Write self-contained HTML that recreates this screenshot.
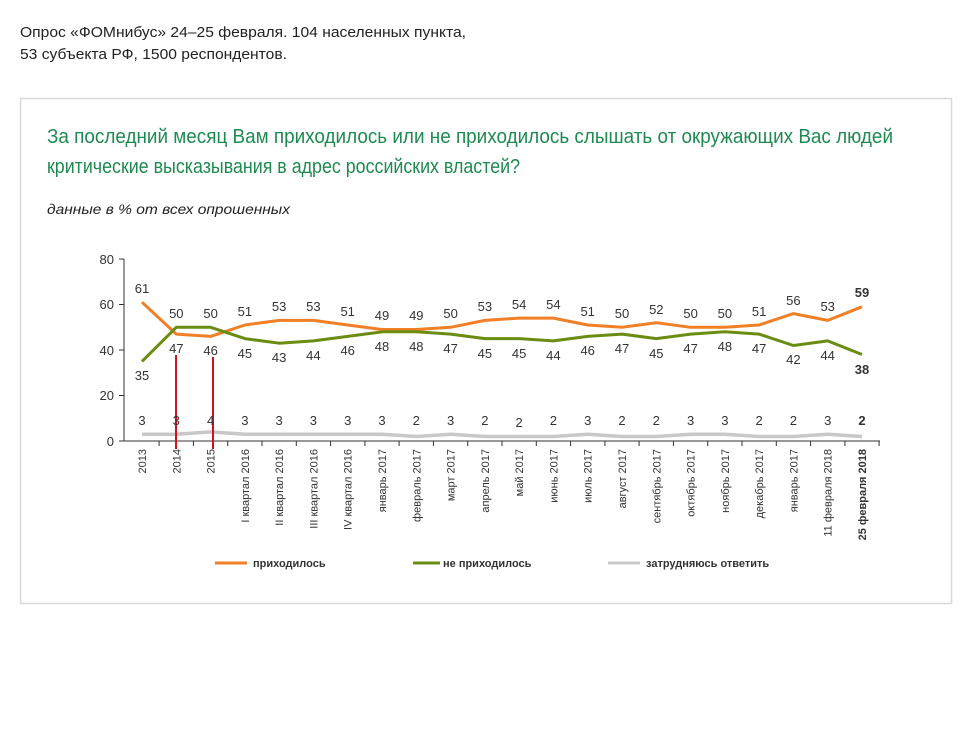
<!DOCTYPE html>
<html><head><meta charset="utf-8"><style>
html,body{margin:0;padding:0;background:#fff;}
svg{display:block;}
text{font-family:"Liberation Sans Narrow","Liberation Sans","DejaVu Sans Condensed",sans-serif;}
</style></head><body>
<svg width="960" height="748" viewBox="0 0 960 748" xmlns="http://www.w3.org/2000/svg">
<text x="20" y="37" font-size="15" fill="#222" textLength="446" lengthAdjust="spacingAndGlyphs">Опрос «ФОМнибус» 24–25 февраля. 104 населенных пункта,</text>
<text x="20" y="59" font-size="15" fill="#222" textLength="267" lengthAdjust="spacingAndGlyphs">53 субъекта РФ, 1500 респондентов.</text>
<rect x="20.5" y="98.5" width="931" height="505" fill="none" stroke="#d8d8d8" stroke-width="1.5"/>
<text x="47" y="143" font-size="20" fill="#1e8a52" textLength="846" lengthAdjust="spacingAndGlyphs">За последний месяц Вам приходилось или не приходилось слышать от окружающих Вас людей</text>
<text x="47" y="173" font-size="20" fill="#1e8a52" textLength="473" lengthAdjust="spacingAndGlyphs">критические высказывания в адрес российских властей?</text>
<text x="47" y="214" font-size="14" font-style="italic" fill="#222" textLength="243" lengthAdjust="spacingAndGlyphs">данные в % от всех опрошенных</text>

<g stroke="#333" stroke-width="1" fill="none">
<line x1="124" y1="259" x2="124" y2="441"/>
<line x1="124" y1="441" x2="880" y2="441"/>
<line x1="119" y1="259" x2="124" y2="259"/><line x1="119" y1="304.5" x2="124" y2="304.5"/><line x1="119" y1="350" x2="124" y2="350"/><line x1="119" y1="395.5" x2="124" y2="395.5"/><line x1="119" y1="441" x2="124" y2="441"/>
<line x1="159.1" y1="441" x2="159.1" y2="446"/><line x1="193.4" y1="441" x2="193.4" y2="446"/><line x1="227.7" y1="441" x2="227.7" y2="446"/><line x1="262" y1="441" x2="262" y2="446"/><line x1="296.3" y1="441" x2="296.3" y2="446"/><line x1="330.6" y1="441" x2="330.6" y2="446"/><line x1="364.9" y1="441" x2="364.9" y2="446"/><line x1="399.1" y1="441" x2="399.1" y2="446"/><line x1="433.4" y1="441" x2="433.4" y2="446"/><line x1="467.7" y1="441" x2="467.7" y2="446"/><line x1="502" y1="441" x2="502" y2="446"/><line x1="536.3" y1="441" x2="536.3" y2="446"/><line x1="570.6" y1="441" x2="570.6" y2="446"/><line x1="604.9" y1="441" x2="604.9" y2="446"/><line x1="639.1" y1="441" x2="639.1" y2="446"/><line x1="673.4" y1="441" x2="673.4" y2="446"/><line x1="707.7" y1="441" x2="707.7" y2="446"/><line x1="742" y1="441" x2="742" y2="446"/><line x1="776.3" y1="441" x2="776.3" y2="446"/><line x1="810.6" y1="441" x2="810.6" y2="446"/><line x1="844.9" y1="441" x2="844.9" y2="446"/><line x1="879.1" y1="441" x2="879.1" y2="446"/>
</g>
<g font-size="13" fill="#333" text-anchor="end">
<text x="114" y="264">80</text><text x="114" y="309">60</text><text x="114" y="355">40</text><text x="114" y="400">20</text><text x="114" y="446">0</text>
</g>

<polyline fill="none" stroke="#c8c8c8" stroke-width="3.5" stroke-linejoin="round" points="142,434.2 176.3,434.2 210.6,431.9 244.9,434.2 279.1,434.2 313.4,434.2 347.7,434.2 382,434.2 416.3,436.5 450.6,434.2 484.9,436.5 519.1,436.5 553.4,436.5 587.7,434.2 622,436.5 656.3,436.5 690.6,434.2 724.9,434.2 759.1,436.5 793.4,436.5 827.7,434.2 862,436.5"/>
<polyline fill="none" stroke="#f07f26" stroke-width="3" stroke-linejoin="round" points="142,302.2 176.3,334.1 210.6,336.4 244.9,325 279.1,320.4 313.4,320.4 347.7,325 382,329.5 416.3,329.5 450.6,327.3 484.9,320.4 519.1,318.1 553.4,318.1 587.7,325 622,327.3 656.3,322.7 690.6,327.3 724.9,327.3 759.1,325 793.4,313.6 827.7,320.4 862,306.8"/>
<polyline fill="none" stroke="#6b8c12" stroke-width="3" stroke-linejoin="round" points="142,361.4 176.3,327.3 210.6,327.3 244.9,338.6 279.1,343.2 313.4,340.9 347.7,336.4 382,331.8 416.3,331.8 450.6,334.1 484.9,338.6 519.1,338.6 553.4,340.9 587.7,336.4 622,334.1 656.3,338.6 690.6,334.1 724.9,331.8 759.1,334.1 793.4,345.5 827.7,340.9 862,354.5"/>
<line x1="176" y1="355" x2="176" y2="449" stroke="#d0101a" stroke-width="2"/>
<line x1="213" y1="357" x2="213" y2="449" stroke="#d0101a" stroke-width="2"/>

<g font-size="13" fill="#333" text-anchor="middle">
<text x="142" y="293">61</text><text x="142" y="380">35</text>
<text x="176.3" y="318">50</text><text x="176.3" y="353">47</text>
<text x="210.6" y="318">50</text><text x="210.6" y="355">46</text>
<text x="244.9" y="316">51</text><text x="244.9" y="358">45</text>
<text x="279.1" y="311">53</text><text x="279.1" y="362">43</text>
<text x="313.4" y="311">53</text><text x="313.4" y="360">44</text>
<text x="347.7" y="316">51</text><text x="347.7" y="355">46</text>
<text x="382" y="320">49</text><text x="382" y="351">48</text>
<text x="416.3" y="320">49</text><text x="416.3" y="351">48</text>
<text x="450.6" y="318">50</text><text x="450.6" y="353">47</text>
<text x="484.9" y="311">53</text><text x="484.9" y="358">45</text>
<text x="519.1" y="309">54</text><text x="519.1" y="358">45</text>
<text x="553.4" y="309">54</text><text x="553.4" y="360">44</text>
<text x="587.7" y="316">51</text><text x="587.7" y="355">46</text>
<text x="622" y="318">50</text><text x="622" y="353">47</text>
<text x="656.3" y="314">52</text><text x="656.3" y="358">45</text>
<text x="690.6" y="318">50</text><text x="690.6" y="353">47</text>
<text x="724.9" y="318">50</text><text x="724.9" y="351">48</text>
<text x="759.1" y="316">51</text><text x="759.1" y="353">47</text>
<text x="793.4" y="305">56</text><text x="793.4" y="364">42</text>
<text x="827.7" y="311">53</text><text x="827.7" y="360">44</text>
<text x="862" y="297" font-weight="bold">59</text><text x="862" y="374" font-weight="bold">38</text>
<text x="142" y="425">3</text><text x="176.3" y="425">3</text><text x="210.6" y="425">4</text><text x="244.9" y="425">3</text><text x="279.1" y="425">3</text><text x="313.4" y="425">3</text><text x="347.7" y="425">3</text><text x="382" y="425">3</text><text x="416.3" y="425">2</text><text x="450.6" y="425">3</text><text x="484.9" y="425">2</text><text x="519.1" y="427">2</text><text x="553.4" y="425">2</text><text x="587.7" y="425">3</text><text x="622" y="425">2</text><text x="656.3" y="425">2</text><text x="690.6" y="425">3</text><text x="724.9" y="425">3</text><text x="759.1" y="425">2</text><text x="793.4" y="425">2</text><text x="827.7" y="425">3</text><text x="862" y="425" font-weight="bold">2</text>
</g>

<g font-size="11" fill="#333" text-anchor="end">
<text transform="translate(146,449) rotate(-90)">2013</text>
<text transform="translate(180.3,449) rotate(-90)">2014</text>
<text transform="translate(214.6,449) rotate(-90)">2015</text>
<text transform="translate(248.9,449) rotate(-90)">I квартал 2016</text>
<text transform="translate(283.1,449) rotate(-90)">II квартал 2016</text>
<text transform="translate(317.4,449) rotate(-90)">III квартал 2016</text>
<text transform="translate(351.7,449) rotate(-90)">IV квартал 2016</text>
<text transform="translate(386,449) rotate(-90)">январь 2017</text>
<text transform="translate(420.3,449) rotate(-90)">февраль 2017</text>
<text transform="translate(454.6,449) rotate(-90)">март 2017</text>
<text transform="translate(488.9,449) rotate(-90)">апрель 2017</text>
<text transform="translate(523.1,449) rotate(-90)">май 2017</text>
<text transform="translate(557.4,449) rotate(-90)">июнь 2017</text>
<text transform="translate(591.7,449) rotate(-90)">июль 2017</text>
<text transform="translate(626,449) rotate(-90)">август 2017</text>
<text transform="translate(660.3,449) rotate(-90)">сентябрь 2017</text>
<text transform="translate(694.6,449) rotate(-90)">октябрь 2017</text>
<text transform="translate(728.9,449) rotate(-90)">ноябрь 2017</text>
<text transform="translate(763.1,449) rotate(-90)">декабрь 2017</text>
<text transform="translate(797.4,449) rotate(-90)">январь 2017</text>
<text transform="translate(831.7,449) rotate(-90)">11 февраля 2018</text>
<text transform="translate(866,449) rotate(-90)" font-weight="bold">25 февраля 2018</text>
</g>

<line x1="215" y1="563" x2="247" y2="563" stroke="#f07f26" stroke-width="3"/>
<text x="253" y="567" font-size="11" fill="#333" font-weight="bold">приходилось</text>
<line x1="413" y1="563" x2="440" y2="563" stroke="#6b8c12" stroke-width="3"/>
<text x="443" y="567" font-size="11" fill="#333" font-weight="bold">не приходилось</text>
<line x1="608" y1="563" x2="640" y2="563" stroke="#c8c8c8" stroke-width="3"/>
<text x="646" y="567" font-size="11" fill="#333" font-weight="bold">затрудняюсь ответить</text>
</svg>
</body></html>
